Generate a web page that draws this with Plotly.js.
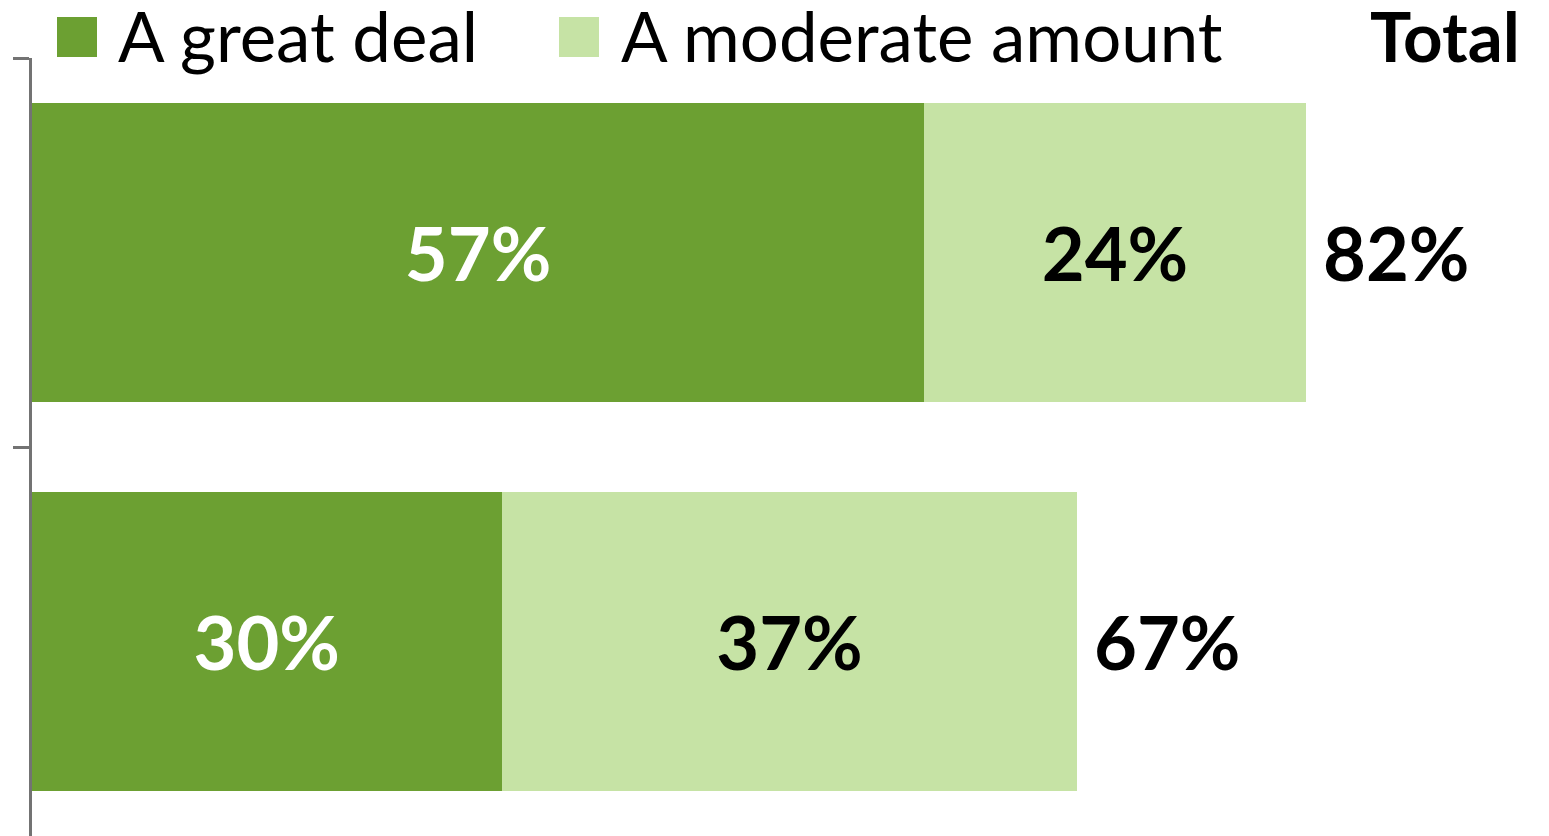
<!DOCTYPE html>
<html>
<head>
<meta charset="utf-8">
<script src="https://cdn.plot.ly/plotly-3.0.1.min.js"></script>
<style>
html, body { margin: 0; padding: 0; overflow: hidden; background: #ffffff; }
#chart { width: 1549px; height: 836px; }
</style>
</head>
<body>
<div id="chart"></div>
<script>
// ---- data ----
const categories = ["Row 1", "Row 2"];
const seriesNames = ["A great deal", "A moderate amount"];
const greatDeal = [57.0, 30.0];
const moderateAmount = [24.4, 36.8];
const totals = [82, 67];
const totalHeader = "Total";

// ---- styles ----
const FONT = 'Lato, "Open Sans", "DejaVu Sans", sans-serif';
const DARK = '#6CA032';
const LIGHT = '#C6E3A5';

const W = 1549, H = 836, ML = 32, MT = 58;
const plotW = W - ML, plotH = H - MT;
const px2x = p => (p - ML) / plotW;
const py2y = p => (H - p) / plotH;

const traces = [
  {
    type: 'bar', orientation: 'h', name: seriesNames[0],
    y: categories, x: greatDeal,
    marker: { color: DARK },
    texttemplate: '%{x:.0f}%', textposition: 'inside', insidetextanchor: 'middle',
    textfont: { family: FONT, size: 74, color: '#ffffff', weight: 'bold' },
    constraintext: 'none', hoverinfo: 'skip'
  },
  {
    type: 'bar', orientation: 'h', name: seriesNames[1],
    y: categories, x: moderateAmount,
    marker: { color: LIGHT },
    texttemplate: '%{x:.0f}%', textposition: 'inside', insidetextanchor: 'middle',
    textfont: { family: FONT, size: 74, color: '#000000', weight: 'bold' },
    constraintext: 'none', hoverinfo: 'skip'
  }
];

const annotations = [];
categories.forEach((c, i) => {
  annotations.push({
    xref: 'x', yref: 'y', x: greatDeal[i] + moderateAmount[i], y: c,
    text: totals[i] + '%', showarrow: false, xanchor: 'left', yanchor: 'middle',
    xshift: 15,
    font: { family: FONT, size: 74, color: '#000000', weight: 'bold' }
  });
});
// legend (drawn as shapes + annotations to match large swatches)
const legendSwatchX = [57, 559];
const legendTextX = [116, 619];
const legendColors = [DARK, LIGHT];
const shapes = [];
seriesNames.forEach((n, i) => {
  shapes.push({
    type: 'rect', xref: 'paper', yref: 'paper',
    x0: px2x(legendSwatchX[i]), x1: px2x(legendSwatchX[i] + 40),
    y0: py2y(57), y1: py2y(17),
    fillcolor: legendColors[i], line: { width: 0 }
  });
  annotations.push({
    xref: 'paper', yref: 'paper', x: px2x(legendTextX[i]), y: py2y(35),
    text: n, showarrow: false, xanchor: 'left', yanchor: 'middle',
    font: { family: FONT, size: 69, color: '#000000' }
  });
});
annotations.push({
  xref: 'paper', yref: 'paper', x: px2x(1522), y: py2y(35),
  text: totalHeader, showarrow: false, xanchor: 'right', yanchor: 'middle',
  font: { family: FONT, size: 69, color: '#000000', weight: 'bold' }
});

const layout = {
  width: W, height: H,
  margin: { l: ML, r: 0, t: MT, b: 0, pad: 0 },
  paper_bgcolor: '#ffffff', plot_bgcolor: '#ffffff',
  barmode: 'stack', bargap: 0.23,
  showlegend: false,
  font: { family: FONT },
  xaxis: {
    range: [0, plotW / 15.65], showgrid: false, zeroline: false,
    showticklabels: false, showline: false, ticks: '', fixedrange: true
  },
  yaxis: {
    type: 'category', range: [1.5, -0.5],
    showgrid: false, zeroline: false, showticklabels: false,
    showline: true, linecolor: '#737373', linewidth: 3,
    ticks: 'outside', tickson: 'boundaries', ticklen: 16, tickwidth: 3, tickcolor: '#737373',
    layer: 'above traces', fixedrange: true
  },
  shapes: shapes,
  annotations: annotations
};

Plotly.newPlot('chart', traces, layout, { displayModeBar: false, staticPlot: true });
</script>
</body>
</html>
